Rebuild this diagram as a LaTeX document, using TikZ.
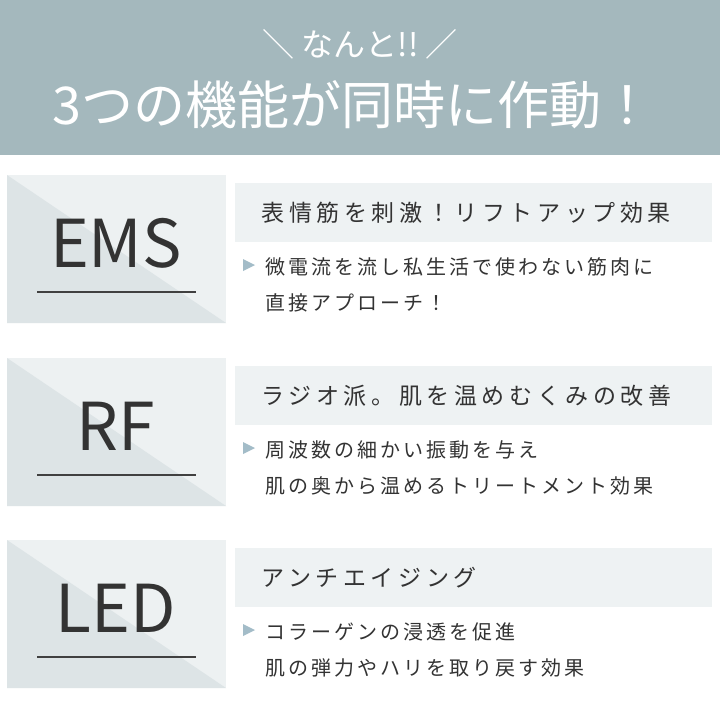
\documentclass[tikz,border=0pt]{standalone}
\usepackage{fontspec}
\setmainfont{Noto Sans CJK JP}
\newfontfamily\jp{Noto Sans CJK JP}
\newfontfamily\jph[LetterSpace=20]{Noto Sans CJK JP}
\newfontfamily\jpb[LetterSpace=15]{Noto Sans CJK JP}
\begin{document}
\begin{tikzpicture}[x=1pt,y=-1pt,
  hdr/.style={anchor=west,font=\jph\fontsize{23}{25}\selectfont,text=black!80},
  body/.style={anchor=west,font=\jpb\fontsize{20}{22}\selectfont,text=black!80},
  big/.style={font=\fontsize{66}{70}\selectfont,text=black!80},
  bul/.style={fill=bulc}]
\definecolor{hd}{HTML}{A4B8BD}
\definecolor{lo}{HTML}{DDE4E6}
\definecolor{hi}{HTML}{EDF1F2}
\definecolor{bar}{HTML}{EEF2F3}
\definecolor{bulc}{HTML}{A3BCC8}
\useasboundingbox (0,0) rectangle (720,720);
\fill[white] (0,0) rectangle (720,720);
\fill[hd] (0,0) rectangle (720,155);
\node[text=white,font=\jp\fontsize{32}{34}\selectfont] (t1) at (360,44) {＼\ なんと!!\ ／};
\node[text=white,font=\jp\fontsize{52}{56}\selectfont] (t2) at (353,105) {3つの機能が同時に作動！};
\foreach \y/\nm/\h/\a/\b/\bx in {175/EMS/表情筋を刺激！リフトアップ効果/微電流を流し私生活で使わない筋肉に/直接アプローチ！/e,
  358/RF/ラジオ派。肌を温めむくみの改善/周波数の細かい振動を与え/肌の奥から温めるトリートメント効果/r,
  540/LED/アンチエイジング/コラーゲンの浸透を促進/肌の弾力やハリを取り戻す効果/l}{
  \fill[hi] (7,\y) rectangle (226,\y+148);
  \fill[lo] (7,\y) -- (226,\y+148) -- (7,\y+148) -- cycle;
  \node[big] (\bx n) at (116,\y+68) {\nm};
  \draw[black!75,line width=1.2pt] (37,\y+117) -- (196,\y+117);
  \fill[bar] (235,\y+8) rectangle (712,\y+67);
  \node[hdr] (\bx h) at (258,\y+38) {\h};
  \fill[bulc] (243,\y+84) -- (255,\y+90) -- (243,\y+96) -- cycle;
  \node[body] (\bx a) at (262,\y+92) {\a};
  \node[body] (\bx b) at (262,\y+128) {\b};
}
\end{tikzpicture}
\end{document}
